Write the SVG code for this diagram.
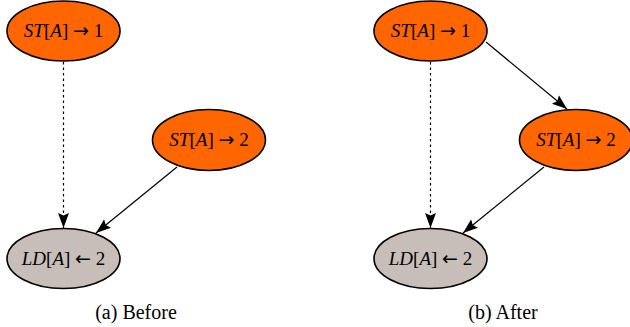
<svg xmlns="http://www.w3.org/2000/svg" width="630" height="327" viewBox="0 0 630 327">
<style>
.st{fill:#FF6600;stroke:#000;stroke-width:1.6}
.ld{fill:#C7BEB9;stroke:#000;stroke-width:1.6}
.lbl{font-family:"Liberation Serif",serif;font-size:19px;fill:#000;text-anchor:middle}
.it{font-style:italic}
.ar{font-family:"DejaVu Sans",sans-serif;font-size:19px}
.cap{font-family:"Liberation Serif",serif;font-size:20px;fill:#000;text-anchor:middle}
.e{stroke:#000;stroke-width:1.2;fill:none;marker-end:url(#ah)}
.d{stroke-dasharray:2.5,3}
</style>
<defs>
<marker id="ah" markerUnits="userSpaceOnUse" markerWidth="16" markerHeight="12" refX="15" refY="6" orient="auto" viewBox="0 0 16 12">
<path d="M0,0.5 L15,6 L0,11.5 L2.5,6 z" fill="#000"/>
</marker>
</defs>
<g id="edges">
<line class="e d" x1="63.5" y1="62" x2="63.5" y2="228"/>
<line class="e" x1="177" y1="167" x2="96" y2="233"/>
<line class="e d" x1="430.5" y1="62" x2="430.5" y2="228"/>
<line class="e" x1="486" y1="42" x2="567" y2="109"/>
<line class="e" x1="544" y1="167" x2="463" y2="233"/>
</g>
<g id="a_st1">
<ellipse class="st" cx="63.5" cy="31" rx="56.5" ry="30"/>
<text class="lbl" x="63.5" y="37"><tspan class="it">ST</tspan>[<tspan class="it">A</tspan>] <tspan class="ar">→</tspan> 1</text>
</g>
<g id="a_st2">
<ellipse class="st" cx="209" cy="140" rx="56.5" ry="30.5"/>
<text class="lbl" x="209" y="146"><tspan class="it">ST</tspan>[<tspan class="it">A</tspan>] <tspan class="ar">→</tspan> 2</text>
</g>
<g id="a_ld">
<ellipse class="ld" cx="63.5" cy="258.5" rx="56.5" ry="30"/>
<text class="lbl" x="63.5" y="264.5"><tspan class="it">LD</tspan>[<tspan class="it">A</tspan>] <tspan class="ar">←</tspan> 2</text>
</g>
<g id="b_st1">
<ellipse class="st" cx="430.5" cy="31" rx="56.5" ry="30"/>
<text class="lbl" x="430.5" y="37"><tspan class="it">ST</tspan>[<tspan class="it">A</tspan>] <tspan class="ar">→</tspan> 1</text>
</g>
<g id="b_st2">
<ellipse class="st" cx="576" cy="140" rx="56.5" ry="30.5"/>
<text class="lbl" x="576" y="146"><tspan class="it">ST</tspan>[<tspan class="it">A</tspan>] <tspan class="ar">→</tspan> 2</text>
</g>
<g id="b_ld">
<ellipse class="ld" cx="430.5" cy="258.5" rx="56.5" ry="30"/>
<text class="lbl" x="430.5" y="264.5"><tspan class="it">LD</tspan>[<tspan class="it">A</tspan>] <tspan class="ar">←</tspan> 2</text>
</g>
<text class="cap" x="136" y="319">(a) Before</text>
<text class="cap" x="503" y="319">(b) After</text>
</svg>
